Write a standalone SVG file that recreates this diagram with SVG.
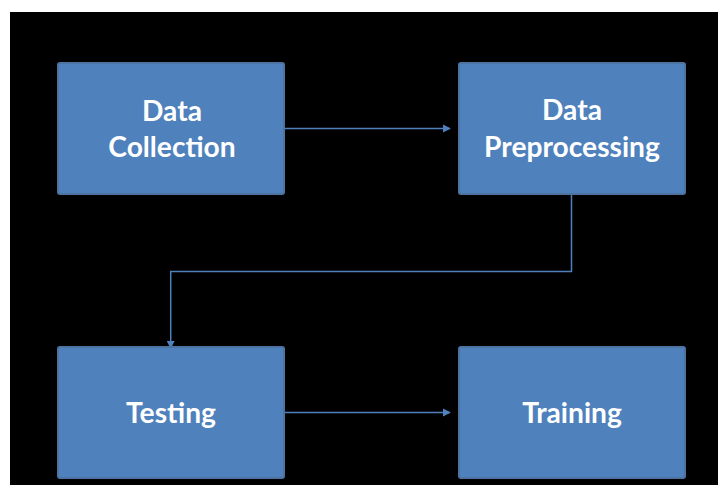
<svg xmlns="http://www.w3.org/2000/svg" width="718" height="485" viewBox="0 0 718 485">
  <style>
    .box { fill: #4f81bd; stroke: #4d73a3; stroke-width: 2; }
    .label { font-family: "Lato", "Liberation Sans", sans-serif; font-weight: bold; font-size: 28.2px; fill: #ffffff; text-anchor: middle; }
    .link { fill: none; stroke: #4f81bd; stroke-width: 1.5; }
  </style>
  <defs>
    <marker id="arrow" viewBox="0 0 10 10" refX="9" refY="5" markerWidth="5.5" markerHeight="5.5" markerUnits="strokeWidth" orient="auto">
      <path d="M0,0 L10,5 L0,10 Z" fill="#4f81bd"/>
    </marker>
  </defs>

  <!-- page and dark backdrop -->
  <rect x="0" y="0" width="718" height="485" fill="#ffffff"/>
  <rect x="10" y="12" width="708" height="473" fill="#000000"/>

  <!-- connectors -->
  <g id="connectors">
    <path class="link" d="M284,128.5 H450" marker-end="url(#arrow)"/>
    <path class="link" d="M571.5,195 V271.5 H170.7 V348" marker-end="url(#arrow)"/>
    <path class="link" d="M284,412.5 H450" marker-end="url(#arrow)"/>
  </g>

  <!-- process steps -->
  <g id="data-collection">
    <rect class="box" x="58" y="63" width="226" height="131" rx="2"/>
    <text class="label" x="172" y="121">Data</text>
    <text class="label" x="172" y="157">Collection</text>
  </g>
  <g id="data-preprocessing">
    <rect class="box" x="459" y="63" width="226" height="131" rx="2"/>
    <text class="label" x="572" y="120">Data</text>
    <text class="label" x="572" y="157">Preprocessing</text>
  </g>
  <g id="testing">
    <rect class="box" x="58" y="347" width="226" height="131" rx="2"/>
    <text class="label" x="171" y="423">Testing</text>
  </g>
  <g id="training">
    <rect class="box" x="459" y="347" width="226" height="131" rx="2"/>
    <text class="label" x="572" y="423">Training</text>
  </g>
</svg>
